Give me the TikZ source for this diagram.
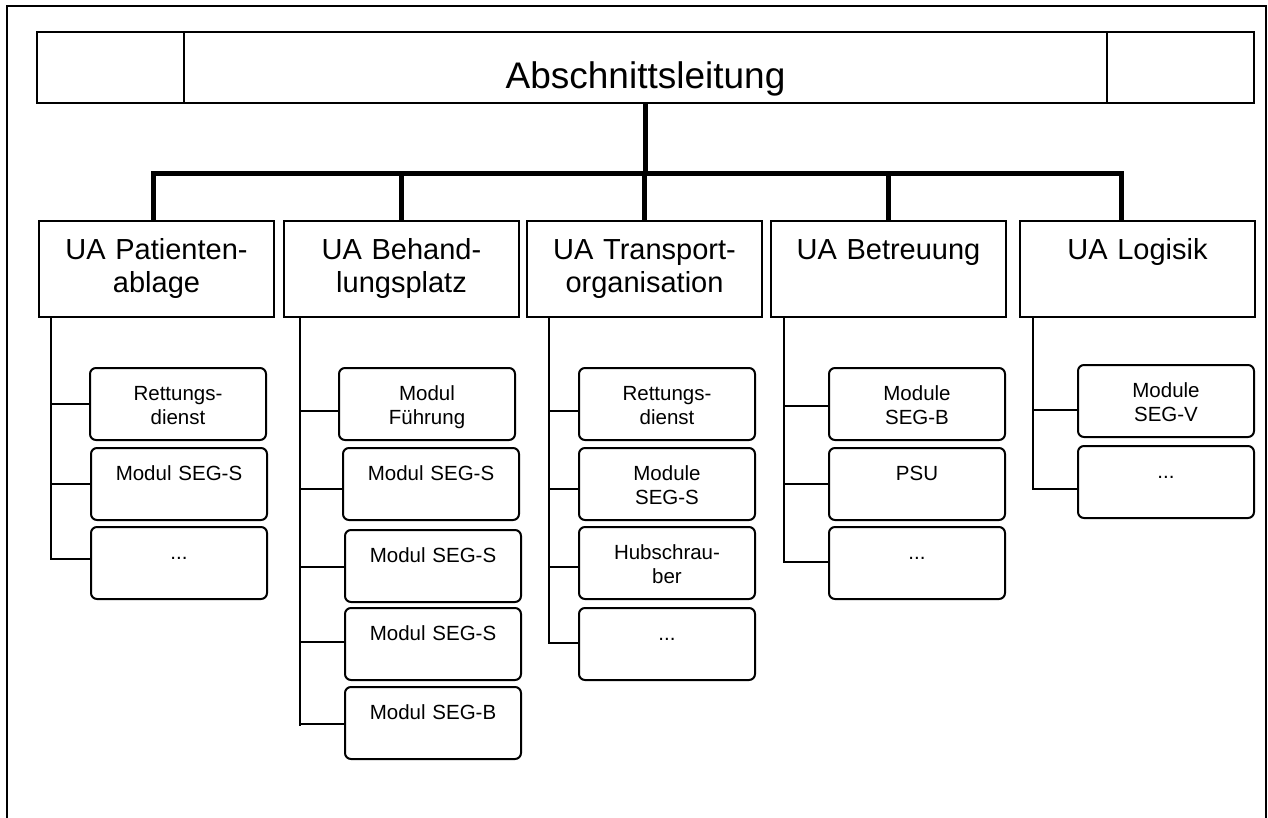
\documentclass[tikz,border=0pt]{standalone}
\usepackage{fontspec}
\setmainfont{Liberation Sans}
\begin{document}
\begin{tikzpicture}[x=1pt,y=-1pt,
  frame/.style={line width=2pt},
  topcell/.style={draw, line width=2pt, anchor=north west, inner sep=0pt, minimum height=71pt},
  uabox/.style={draw, line width=2pt, anchor=north west, inner sep=0pt, text width=235pt, align=center,
    text height=38pt, text depth=58pt, font=\fontsize{29}{33.5}\selectfont},
  sub/.style={draw, line width=2pt, rounded corners=6pt, anchor=north west, inner sep=0pt, text width=176pt,
    align=center, text height=32pt, text depth=40pt, font=\fontsize{20.5}{24}\selectfont},
  thickc/.style={line width=5pt},
  conn/.style={line width=2pt}]
\useasboundingbox (0,0) rectangle (1268,818);
% outer frame
\draw[frame] (6.5,818) -- (6.5,6.5) -- (1265.5,6.5) -- (1265.5,818);
% top box
\node[topcell, minimum width=147pt] (tl) at (36,31) {};
\node[topcell, minimum width=923pt, text height=57pt, text depth=14pt, font=\fontsize{37}{40}\selectfont] (tm) at (183,31) {Abschnittsleitung};
\node[topcell, minimum width=147pt] (tr) at (1106,31) {};
% UA boxes
\node[uabox] (ua1) at (38,220) {UA Patienten-\\ablage};
\node[uabox] (ua2) at (283,220) {UA Behand-\\lungsplatz};
\node[uabox] (ua3) at (526,220) {UA Transport-\\organisation};
\node[uabox] (ua4) at (770,220) {UA Betreuung};
\node[uabox] (ua5) at (1019,220) {UA Logisik};
% thick connectors
\coordinate (barL) at (153,174);
\coordinate (barR) at (1121,174);
\draw[thickc] (tm.south) -- (tm.south |- barL);
\draw[thickc] (ua1.north -| barL) -- (barL) -- (barR) -- (ua5.north -| barR);
\draw[thickc] (ua2.north) -- (ua2.north |- barL);
\draw[thickc] (ua3.north) -- (ua3.north |- barL);
\draw[thickc] (ua4.north) -- (ua4.north |- barL);
% sub boxes
\node[sub] (s11) at (89,367) {Rettungs-\\dienst};
\node[sub] (s12) at (90,447) {Modul SEG-S};
\node[sub] (s13) at (90,526) {...};
\node[sub] (s21) at (338,367) {Modul\\Führung};
\node[sub] (s22) at (342,447) {Modul SEG-S};
\node[sub] (s23) at (344,529) {Modul SEG-S};
\node[sub] (s24) at (344,607) {Modul SEG-S};
\node[sub] (s25) at (344,686) {Modul SEG-B};
\node[sub] (s31) at (578,367) {Rettungs-\\dienst};
\node[sub] (s32) at (578,447) {Module\\SEG-S};
\node[sub] (s33) at (578,526) {Hubschrau-\\ber};
\node[sub] (s34) at (578,607) {...};
\node[sub] (s41) at (828,367) {Module\\SEG-B};
\node[sub] (s42) at (828,447) {PSU};
\node[sub] (s43) at (828,526) {...};
\node[sub] (s51) at (1077,364) {Module\\SEG-V};
\node[sub] (s52) at (1077,445) {...};
% trunks
\coordinate (t1) at (50.7,316);
\coordinate (t2) at (300,316);
\coordinate (t2e) at (300,726);
\coordinate (t3) at (549,316);
\coordinate (t4) at (784,316);
\coordinate (t5) at (1033,316);
\draw[conn] (t1) |- ([yshift=4pt]s13.west);
\draw[conn] (s11.west) -- (s11.west -| t1);
\draw[conn] (s12.west) -- (s12.west -| t1);
\draw[conn] (t2) -- (t2e);
\draw[conn] ([yshift=-6.5pt]s21.west) -- ([yshift=-6.5pt]s21.west -| t2);
\draw[conn] ([yshift=-5pt]s22.west) -- ([yshift=-5pt]s22.west -| t2);
\draw[conn] ([yshift=-1pt]s23.west) -- ([yshift=-1pt]s23.west -| t2);
\draw[conn] ([yshift=2.5pt]s24.west) -- ([yshift=2.5pt]s24.west -| t2);
\draw[conn] ([yshift=-1pt]s25.west) -- ([yshift=-1pt]s25.west -| t2);
\draw[conn] (t3) |- ([yshift=1.5pt]s34.west);
\draw[conn] ([yshift=-6.5pt]s31.west) -- ([yshift=-6.5pt]s31.west -| t3);
\draw[conn] ([yshift=-5pt]s32.west) -- ([yshift=-5pt]s32.west -| t3);
\draw[conn] ([yshift=-4pt]s33.west) -- ([yshift=-4pt]s33.west -| t3);
\draw[conn] (t4) |- ([yshift=1pt]s43.west);
\draw[conn] ([yshift=-1.5pt]s41.west) -- ([yshift=-1.5pt]s41.west -| t4);
\draw[conn] (s42.west) -- (s42.west -| t4);
\draw[conn] (t5) |- ([yshift=-6.5pt]s52.west);
\draw[conn] ([yshift=-8.5pt]s51.west) -- ([yshift=-8.5pt]s51.west -| t5);
\end{tikzpicture}
\end{document}
